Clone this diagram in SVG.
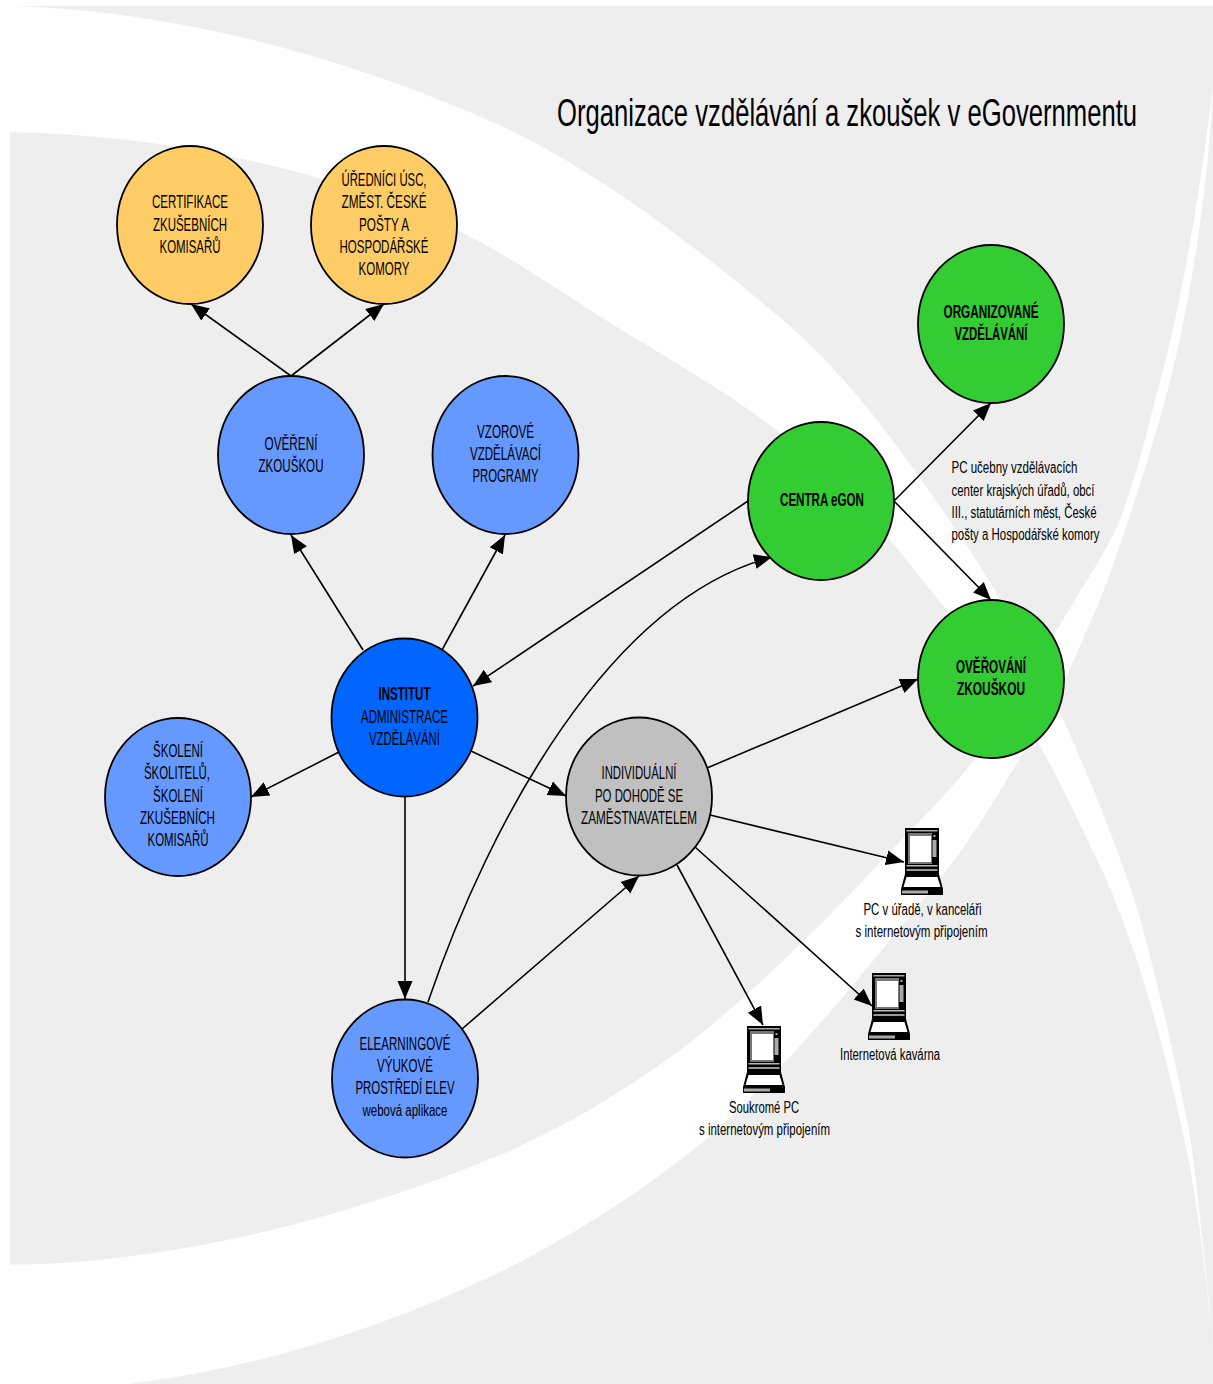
<svg xmlns="http://www.w3.org/2000/svg" width="1213" height="1384" viewBox="0 0 1213 1384">
<style>
text{font-family:"Liberation Sans",Arial,sans-serif;font-size:18px;fill:#000;text-anchor:middle}
.b{font-weight:bold}
.s{font-size:16px}
.l{font-size:16px;text-anchor:start}
.t{font-size:38px;text-anchor:start}
ellipse{stroke:#000;stroke-width:1.8}
.o{fill:#ffcc66}.c{fill:#6699ff}.d{fill:#0066ff}.g{fill:#33cc33}.y{fill:#c0c0c0}
#connectors path{fill:none;stroke:#000;stroke-width:1.6;marker-end:url(#arrow)}
</style>
<defs>
<marker id="arrow" markerUnits="userSpaceOnUse" markerWidth="19" markerHeight="17" refX="18" refY="8.5" orient="auto"><path d="M0,1 L18,8.5 L0,16 Z" fill="#000"/></marker>
<g id="pc">
<rect x="4" y="0" width="34" height="47" fill="#000"/>
<rect x="5.5" y="2" width="31" height="1.5" fill="#aaa"/>
<rect x="7" y="5" width="24" height="31" fill="#777"/>
<rect x="9" y="8" width="21" height="26" fill="#fff"/>
<rect x="31.5" y="12" width="4" height="17" fill="#aaa"/>
<rect x="32.5" y="7" width="2" height="2" fill="#aaa"/>
<rect x="5.5" y="37" width="31" height="1.5" fill="#bbb"/>
<rect x="5.5" y="41" width="31" height="2" fill="#999"/>
<path d="M4,46 H38 L42,61 V67 H0 V61 Z" fill="#000"/>
<path d="M5.5,49 H36.5 L39.5,59 H2.5 Z" fill="#fff"/>
<rect x="1" y="62.5" width="26" height="3" fill="#aaa"/>
</g>
</defs>
<rect id="page" x="10" y="6" width="1203" height="1378" fill="#eeeeee"/>
<path id="swoosh-top" fill="#fff" d="M10,6 C170,10 340,55 488,120 C595,167 700,250 783,320 C857,383 915,470 963,540 C1000,595 1035,660 1060,713 C1080,755 1115,840 1133,896 C1148,940 1176,1060 1190,1137 C1198,1190 1208,1290 1213,1345 C1210,1320 1203,1240 1190,1167 C1180,1115 1155,1010 1133,949 C1122,918 1113,893 1100,866 C1080,825 1060,780 1037,741 C1010,695 975,645 947,610 C925,585 905,557 890,540 C855,500 820,465 780,433 C730,393 670,360 617,327 C565,295 515,258 457,230 C330,170 170,135 10,132 Z"/>
<path id="swoosh-bottom" fill="#fff" d="M10,1265 C180,1262 350,1217 500,1155 C570,1125 625,1090 680,1050 C760,990 850,895 910,831 C930,810 955,785 975,759 C1005,720 1030,675 1057,630 C1080,590 1105,555 1120,520 C1135,480 1145,440 1155,400 C1175,335 1200,200 1213,85 C1208,190 1190,310 1165,400 C1150,455 1115,570 1087,630 C1070,670 1050,712 1025,750 C1000,790 975,835 943,875 C870,965 775,1085 693,1150 C630,1200 565,1240 500,1272 C380,1330 250,1370 127,1384 H10 Z"/>
<text class="t" transform="translate(557,125.5) scale(.675,1)">Organizace vzdělávání a zkoušek v eGovernmentu</text>
<g id="connectors">
<path d="M291,376 L191,304"/>
<path d="M291,376 L384,304"/>
<path d="M363,650 L291,535"/>
<path d="M442,650 L505,535"/>
<path d="M748,501 L473,686"/>
<path d="M339,752 L251,797"/>
<path d="M471,751 L566,796"/>
<path d="M405,797 L405,999"/>
<path d="M428,1002 C490,820 610,600 772,557"/>
<path d="M462,1029 L639,876"/>
<path d="M707,768 L918,679"/>
<path d="M710,815 L904,862"/>
<path d="M695,847 L872,1006"/>
<path d="M677,865 L763,1025"/>
<path d="M894,501 L991,403"/>
<path d="M894,501 L991,600"/>
</g>
<g id="n-certifikace"><ellipse class="o" cx="190" cy="225" rx="73" ry="79"/>
<text x="190" y="208" textLength="76" lengthAdjust="spacingAndGlyphs">CERTIFIKACE</text>
<text x="190" y="230.5" textLength="74" lengthAdjust="spacingAndGlyphs">ZKUŠEBNÍCH</text>
<text x="190" y="253" textLength="61" lengthAdjust="spacingAndGlyphs">KOMISAŘŮ</text></g>
<g id="n-urednici"><ellipse class="o" cx="384" cy="225" rx="73" ry="79"/>
<text x="384" y="186" textLength="85" lengthAdjust="spacingAndGlyphs">ÚŘEDNÍCI ÚSC,</text>
<text x="384" y="208" textLength="85" lengthAdjust="spacingAndGlyphs">ZMĚST. ČESKÉ</text>
<text x="384" y="230.5" textLength="50" lengthAdjust="spacingAndGlyphs">POŠTY A</text>
<text x="384" y="253" textLength="89" lengthAdjust="spacingAndGlyphs">HOSPODÁŘSKÉ</text>
<text x="384" y="275" textLength="51" lengthAdjust="spacingAndGlyphs">KOMORY</text></g>
<g id="n-overeni"><ellipse class="c" cx="291" cy="455" rx="73" ry="79"/>
<text x="291" y="450" textLength="53" lengthAdjust="spacingAndGlyphs">OVĚŘENÍ</text>
<text x="291" y="471.5" textLength="65" lengthAdjust="spacingAndGlyphs">ZKOUŠKOU</text></g>
<g id="n-vzorove"><ellipse class="c" cx="505.5" cy="455" rx="73" ry="79"/>
<text x="505.5" y="438" textLength="57" lengthAdjust="spacingAndGlyphs">VZOROVÉ</text>
<text x="505.5" y="460" textLength="71" lengthAdjust="spacingAndGlyphs">VZDĚLÁVACÍ</text>
<text x="505.5" y="482" textLength="66" lengthAdjust="spacingAndGlyphs">PROGRAMY</text></g>
<g id="n-organizovane"><ellipse class="g" cx="991" cy="324" rx="73" ry="79"/>
<text class="b" x="991" y="318" textLength="95" lengthAdjust="spacingAndGlyphs">ORGANIZOVANÉ</text>
<text class="b" x="991" y="340" textLength="73" lengthAdjust="spacingAndGlyphs">VZDĚLÁVÁNÍ</text></g>
<g id="n-centra"><ellipse class="g" cx="821" cy="501" rx="73" ry="79"/>
<text class="b" x="822" y="506" textLength="84" lengthAdjust="spacingAndGlyphs">CENTRA eGON</text></g>
<g id="n-overovani"><ellipse class="g" cx="991" cy="679" rx="73" ry="79"/>
<text class="b" x="991" y="673" textLength="70" lengthAdjust="spacingAndGlyphs">OVĚŘOVÁNÍ</text>
<text class="b" x="991" y="695" textLength="68" lengthAdjust="spacingAndGlyphs">ZKOUŠKOU</text></g>
<g id="n-institut"><ellipse class="d" cx="404.5" cy="717.5" rx="73" ry="79"/>
<text class="b" x="404.5" y="700" textLength="52" lengthAdjust="spacingAndGlyphs">INSTITUT</text>
<text x="404.5" y="723" textLength="87" lengthAdjust="spacingAndGlyphs">ADMINISTRACE</text>
<text x="404.5" y="745" textLength="71" lengthAdjust="spacingAndGlyphs">VZDĚLÁVÁNÍ</text></g>
<g id="n-individualni"><ellipse class="y" cx="639" cy="796.5" rx="73" ry="79"/>
<text x="639" y="779" textLength="75" lengthAdjust="spacingAndGlyphs">INDIVIDUÁLNÍ</text>
<text x="639" y="801.5" textLength="88" lengthAdjust="spacingAndGlyphs">PO DOHODĚ SE</text>
<text x="639" y="824" textLength="116" lengthAdjust="spacingAndGlyphs">ZAMĚSTNAVATELEM</text></g>
<g id="n-skoleni"><ellipse class="c" cx="178" cy="797" rx="73" ry="79"/>
<text x="178" y="757" textLength="50" lengthAdjust="spacingAndGlyphs">ŠKOLENÍ</text>
<text x="177" y="779" textLength="66" lengthAdjust="spacingAndGlyphs">ŠKOLITELŮ,</text>
<text x="178" y="801.5" textLength="50" lengthAdjust="spacingAndGlyphs">ŠKOLENÍ</text>
<text x="177.5" y="824" textLength="75" lengthAdjust="spacingAndGlyphs">ZKUŠEBNÍCH</text>
<text x="178" y="846" textLength="61" lengthAdjust="spacingAndGlyphs">KOMISAŘŮ</text></g>
<g id="n-elearning"><ellipse class="c" cx="405" cy="1078.5" rx="73" ry="79"/>
<text x="405" y="1050" textLength="91" lengthAdjust="spacingAndGlyphs">ELEARNINGOVÉ</text>
<text x="405" y="1072" textLength="56" lengthAdjust="spacingAndGlyphs">VÝUKOVÉ</text>
<text x="405" y="1094" textLength="99" lengthAdjust="spacingAndGlyphs">PROSTŘEDÍ ELEV</text>
<text class="s" x="405" y="1116" textLength="85" lengthAdjust="spacingAndGlyphs">webová aplikace</text></g>
<g id="n-pc-urad"><use href="#pc" x="901" y="828"/>
<text class="s" x="922.5" y="915" textLength="118" lengthAdjust="spacingAndGlyphs">PC v úřadě, v kanceláři</text>
<text class="s" x="921.5" y="937" textLength="132" lengthAdjust="spacingAndGlyphs">s internetovým připojením</text></g>
<g id="n-pc-kavarna"><use href="#pc" x="868" y="973"/>
<text class="s" x="890" y="1059.5" textLength="100" lengthAdjust="spacingAndGlyphs">Internetová kavárna</text></g>
<g id="n-pc-soukrome"><use href="#pc" x="743" y="1026"/>
<text class="s" x="764" y="1112.5" textLength="70" lengthAdjust="spacingAndGlyphs">Soukromé PC</text>
<text class="s" x="764.5" y="1135" textLength="131" lengthAdjust="spacingAndGlyphs">s internetovým připojením</text></g>
<g id="n-poznamka">
<text class="l" x="951.5" y="473" textLength="126" lengthAdjust="spacingAndGlyphs">PC učebny vzdělávacích</text>
<text class="l" x="951.5" y="495.5" textLength="143" lengthAdjust="spacingAndGlyphs">center krajských úřadů, obcí</text>
<text class="l" x="951.5" y="517.5" textLength="145" lengthAdjust="spacingAndGlyphs">III., statutárních měst, České</text>
<text class="l" x="951.5" y="539.5" textLength="148" lengthAdjust="spacingAndGlyphs">pošty a Hospodářské komory</text></g>
</svg>
